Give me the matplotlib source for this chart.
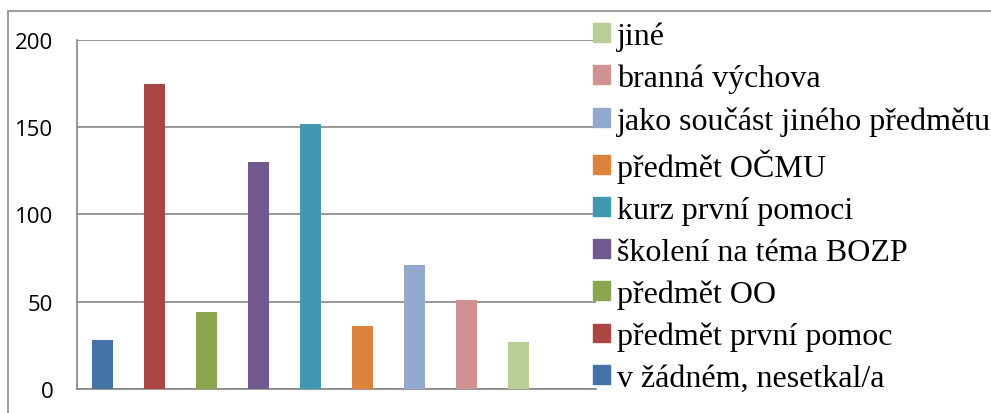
import matplotlib.pyplot as plt
from matplotlib.patches import Rectangle, Patch

categories = ["v žádném, nesetkal/a", "předmět první pomoc", "předmět OO",
              "školení na téma BOZP", "kurz první pomoci", "předmět OČMU",
              "jako součást jiného předmětu", "branná výchova", "jiné"]
values = [28, 175, 44, 130, 152, 36, 71, 51, 27]
colors = ["#4572A7", "#AA4643", "#89A54E", "#71588F", "#4198AF",
          "#DB843D", "#93A9CF", "#D19392", "#B9CD96"]
yticks = [0, 50, 100, 150, 200]

fig = plt.figure(figsize=(9.91, 4.14), dpi=100)
ax = fig.add_axes([77 / 991, 1 - 389.7 / 414, (596 - 77) / 991, (389.7 - 41) / 414])

grid_c = "#868686"
ax.set_axisbelow(True)
ax.yaxis.grid(True, color=grid_c, linewidth=1.2)
for i, (v, c) in enumerate(zip(values, colors)):
    ax.bar(i, v, width=0.405, color=c, zorder=3)

ax.set_xlim(-0.5, 9.5)
ax.set_ylim(0, 200)
ax.set_yticks(yticks)
ax.set_xticks([])
ax.tick_params(axis="y", length=0, pad=17, labelsize=16)
for lab in ax.get_yticklabels():
    lab.set_family("Open Sans")
for s in ["top", "right"]:
    ax.spines[s].set_visible(False)
ax.spines["left"].set_color(grid_c)
ax.spines["bottom"].set_color(grid_c)
ax.spines["left"].set_linewidth(1.2)
ax.spines["bottom"].set_linewidth(1.2)

handles = [Patch(color=c) for c in colors][::-1]
labels = categories[::-1]
leg = fig.legend(handles, labels, loc="upper left",
                 bbox_to_anchor=(587 / 991, 1 - 16 / 414),
                 frameon=False, prop={"family": "Liberation Serif", "size": 23},
                 handlelength=0.53, handleheight=0.53, handletextpad=0.22,
                 labelspacing=0.40, borderpad=0.2, borderaxespad=0)

# outer chart border
fig.add_artist(Rectangle((8 / 991, -0.1), 1.2, 1.1 - 12.5 / 414,
                         transform=fig.transFigure, fill=False,
                         edgecolor="#8c8c8c", linewidth=1.2))

fig.savefig("out.png", dpi=100)
